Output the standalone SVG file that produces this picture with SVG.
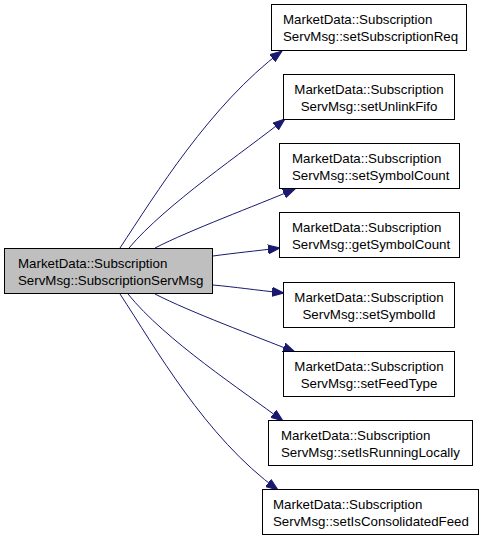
<svg xmlns="http://www.w3.org/2000/svg" width="483" height="541" viewBox="0 0 483 541">
<style>
.node rect{fill:#ffffff;stroke:#000000;stroke-width:1}
.main rect{fill:#bfbfbf}
text{font-family:"Liberation Sans",Arial,Helvetica,sans-serif;font-size:13.3px;fill:#000000}
.c{text-anchor:middle}
.edge{fill:none;stroke:#191970;stroke-width:1;marker-end:url(#ah)}
</style>
<defs>
<marker id="ah" markerUnits="userSpaceOnUse" markerWidth="13" markerHeight="10" viewBox="0 0 13 10" refX="12" refY="5" orient="auto">
<path d="M0,0.5 L12,5 L0,9.5 z" fill="#191970" stroke="#191970" stroke-width="1"/>
</marker>
</defs>
<g id="connectors">
<path class="edge" d="M120,248 C155,195 210,105 282,51"/>
<path class="edge" d="M129,248 C165,205 245,151 285,119"/>
<path class="edge" d="M155,248 C190,230 255,206 295,189"/>
<path class="edge" d="M213,256 C235,253 255,251 280,248"/>
<path class="edge" d="M213,285 C235,287 255,290 284,293"/>
<path class="edge" d="M155,294 C190,312 255,336 295,352"/>
<path class="edge" d="M128,294 C165,340 243,391 283,421"/>
<path class="edge" d="M120,294 C155,347 205,437 278,490"/>
</g>
<g id="main" class="node main">
<rect x="4.5" y="248.5" width="208" height="45"/>
<text x="18" y="267.5">MarketData::Subscription</text>
<text x="18" y="284.5">ServMsg::SubscriptionServMsg</text>
</g>
<g id="n1" class="node">
<rect x="271.5" y="4.5" width="195" height="46"/>
<text x="283" y="24">MarketData::Subscription</text>
<text x="283" y="41">ServMsg::setSubscriptionReq</text>
</g>
<g id="n2" class="node">
<rect x="283.5" y="74.5" width="171" height="45"/>
<text class="c" x="369" y="93.5">MarketData::Subscription</text>
<text class="c" x="369" y="110.5">ServMsg::setUnlinkFifo</text>
</g>
<g id="n3" class="node">
<rect x="279.5" y="143.5" width="180" height="45"/>
<text x="292" y="162.5">MarketData::Subscription</text>
<text x="292" y="179.5">ServMsg::setSymbolCount</text>
</g>
<g id="n4" class="node">
<rect x="279.5" y="212.5" width="180" height="45"/>
<text x="292" y="231.5">MarketData::Subscription</text>
<text x="292" y="248.5">ServMsg::getSymbolCount</text>
</g>
<g id="n5" class="node">
<rect x="283.5" y="282.5" width="171" height="45"/>
<text class="c" x="369" y="301.5">MarketData::Subscription</text>
<text class="c" x="369" y="318.5">ServMsg::setSymbolId</text>
</g>
<g id="n6" class="node">
<rect x="283.5" y="351.5" width="171" height="45"/>
<text class="c" x="369" y="370.5">MarketData::Subscription</text>
<text class="c" x="369" y="387.5">ServMsg::setFeedType</text>
</g>
<g id="n7" class="node">
<rect x="268.5" y="420.5" width="204" height="45"/>
<text x="281" y="439.5">MarketData::Subscription</text>
<text x="281" y="456.5">ServMsg::setIsRunningLocally</text>
</g>
<g id="n8" class="node">
<rect x="262.5" y="489.5" width="216" height="45"/>
<text x="273" y="508.5">MarketData::Subscription</text>
<text x="273" y="525.5">ServMsg::setIsConsolidatedFeed</text>
</g>
</svg>
